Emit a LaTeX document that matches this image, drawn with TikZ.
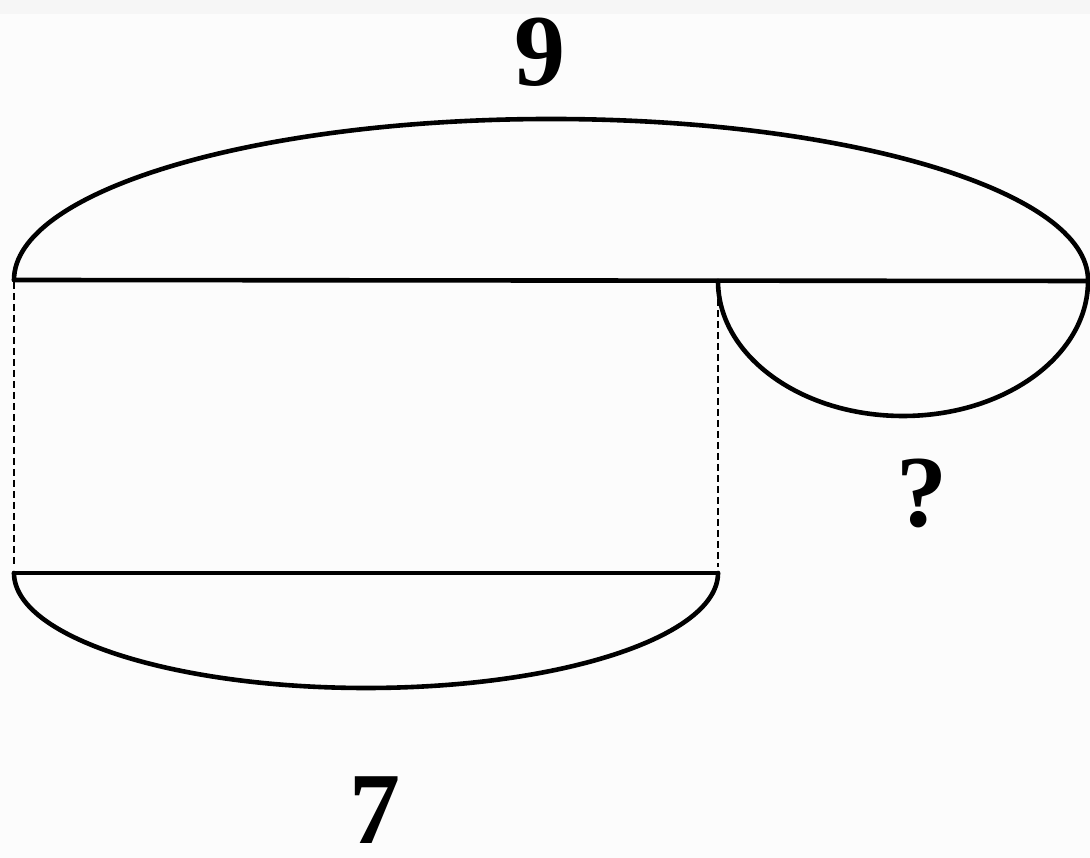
\documentclass[tikz,border=0pt]{standalone}
\usepackage{fontspec}
\setmainfont{Liberation Serif}
\begin{document}
\begin{tikzpicture}[x=1pt,y=1pt,
  thickline/.style={line width=4.6pt, line cap=round},
  guide/.style={line width=1.8pt, dash pattern=on 7pt off 4pt},
  lbl/.style={inner sep=0pt, font=\fontsize{102}{102}\selectfont\bfseries}]
\useasboundingbox (0,0) rectangle (1090,858);
\fill[white!98.8!black] (0,0) rectangle (1090,858);
\fill[white!96.5!black] (0,844) rectangle (1090,858);
% points
\coordinate (A) at (14,578);
\coordinate (B) at (718,577);
\coordinate (C) at (1088,577);
\coordinate (D) at (14,285);
\coordinate (E) at (718,285);
\coordinate (Ad) at (14,576);
\coordinate (Dd) at (14,291);
\coordinate (Bd) at (718,570);
\coordinate (Ed) at (718,291);
% lines
\draw[thickline] (A) -- (C);
\draw[thickline] (D) -- (E);
% arcs
\draw[thickline] (A) arc[start angle=180, end angle=0, x radius=537, y radius=161];
\draw[thickline] (B) arc[start angle=180, end angle=360, x radius=185, y radius=135];
\draw[thickline] (D) arc[start angle=180, end angle=360, x radius=352, y radius=115];
% dashed guides
\draw[guide] (Ad) -- (Dd);
\draw[guide] (Bd) -- (Ed);
% labels
\node[lbl] (nine) at (540,806) {9};
\node[lbl] (q) at (922,365) {?};
\node[lbl] (seven) at (375,48) {7};
\end{tikzpicture}
\end{document}
